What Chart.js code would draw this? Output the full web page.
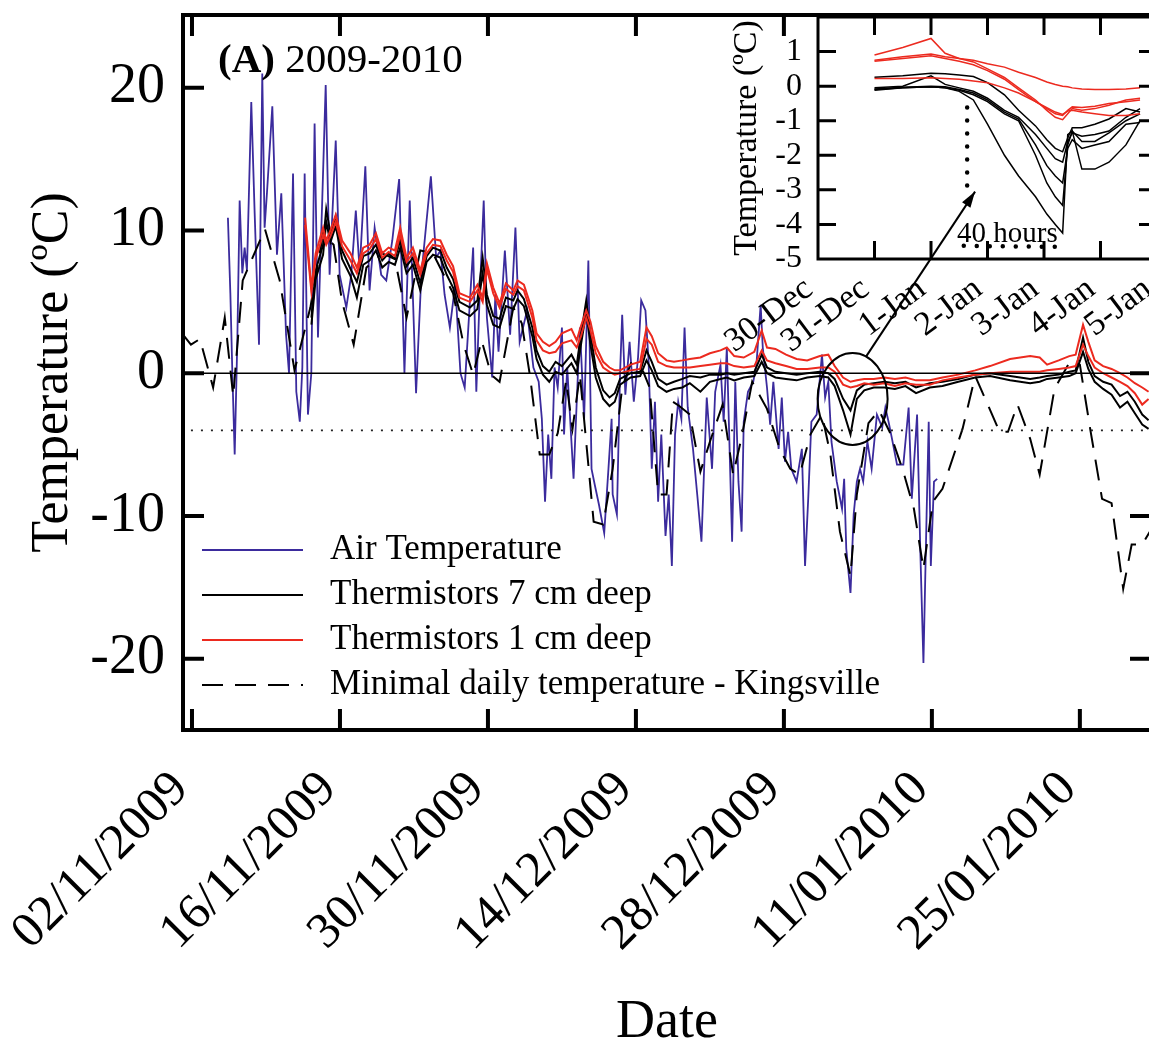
<!DOCTYPE html>
<html>
<head>
<meta charset="utf-8">
<script src="https://cdn.jsdelivr.net/npm/chart.js@4.4.1/dist/chart.umd.min.js"></script>
<style>
  html, body { margin: 0; padding: 0; background: #fff; overflow: hidden; width: 1149px; height: 1043px; }
  #main { position: absolute; left: 0; top: 0; }
  #inset { position: absolute; left: 690px; top: 0; }
</style>
</head>
<body>
<canvas id="main" width="1160" height="1050"></canvas>
<canvas id="inset" width="480" height="360"></canvas>
<script>
// main axis: days since 02/11/2009
const dateTicks = [0, 14, 28, 42, 56, 70, 84];
const dateLabels = ['02/11/2009', '16/11/2009', '30/11/2009', '14/12/2009', '28/12/2009', '11/01/2010', '25/01/2010'];
const tempTicks = [-20, -10, 0, 10, 20];

// air temperature (station)
const airDays = [3.4, 3.63, 3.82, 4.04, 4.29, 4.51, 4.76, 4.98, 5.2, 5.61, 5.93, 6.34, 6.65, 6.87, 7.1, 7.6, 8.04, 8.45, 8.9, 9.18,
  9.56, 9.87, 10.2, 10.44, 10.66, 10.97, 11.29, 11.6, 11.92, 12.33, 12.65, 13.02, 13.6, 13.97, 14.6, 15.07, 15.5, 15.86, 16.4, 16.8,
  17.28, 17.9, 18.38, 18.95, 19.6, 20.1, 20.6, 21.2, 21.7, 22.6, 23.1, 23.5, 23.9, 24.4, 24.9, 25.4, 25.8, 26.3, 26.6, 26.9,
  27.2, 27.6, 27.9, 28.4, 28.7, 29.0, 29.6, 30.1, 30.6, 31.0, 31.7, 32.3, 32.8, 33.1, 33.4, 33.7, 34.0, 34.3, 34.6, 35.0,
  35.2, 35.5, 36.1, 36.4, 36.7, 37.1, 37.5, 37.8, 38.1, 38.5, 39.0, 39.4, 39.7, 39.8, 40.2, 40.5, 40.7, 41.0, 41.4, 41.8,
  42.2, 42.5, 42.9, 43.2, 43.5, 43.8, 44.1, 44.4, 44.8, 45.1, 45.4, 45.7, 46.0, 46.3, 46.6, 46.9, 47.4, 47.8, 48.2, 48.7,
  49.2, 49.5, 50.0, 50.3, 50.6, 51.1, 51.4, 51.7, 52.0, 52.2, 52.6, 53.1, 53.4, 53.8, 54.0, 54.4, 54.7, 55.0, 55.5, 55.8,
  56.1, 56.4, 56.7, 57.2, 57.7, 58.0, 58.3, 58.6, 59.1, 59.6, 59.9, 60.2, 60.5, 61.0, 61.5, 61.7, 61.9, 62.3, 62.6, 62.9,
  63.2, 63.5, 63.9, 64.3, 64.8, 65.3, 65.6, 65.9, 66.2, 66.7, 67.3, 67.8, 68.1, 68.6, 68.9, 69.2, 69.5, 69.7, 69.9, 70.2, 70.5];
const airTemp = [10.9, 5.6, 0.0, -5.7, 2.3, 12.1, 7.0, 8.8, 7.2, 19.0, 11.2, 2.0, 21.0, 10.2, 12.7, 18.7, 8.3, 12.6, 2.7, 0.0,
  14.0, -1.3, -3.4, 0.4, 14.0, -2.9, 0.0, 17.5, 2.5, 12.3, 20.2, 6.9, 16.3, 6.9, 4.6, 6.9, 11.4, 7.2, 14.5, 5.8,
  10.2, 6.9, 6.5, 9.3, 13.6, 0.0, 12.1, -1.4, 6.9, 13.8, 8.1, 8.6, 5.5, 3.2, 6.2, 0.0, -1.0, 5.1, 8.8, -1.3,
  5.1, 12.1, 3.9, -0.3, 5.5, 1.5, 8.6, 2.7, 10.2, 2.2, 4.4, 0.4, -0.6, -3.2, -9.0, -4.3, -7.4, 0.4, -1.0, 3.2,
  -4.3, 0.4, -7.4, -2.0, 3.2, -3.2, 7.9, -6.7, -7.8, -9.2, -11.2, -6.7, -3.2, -8.5, -9.9, 0.0, 4.1, -1.5, 2.2, -2.0,
  1.1, 5.1, 4.4, 0.8, -6.7, -2.0, -9.0, -4.3, -11.4, -8.5, -13.5, -4.3, -2.0, -3.2, 3.2, -2.4, -5.3, -8.5, -11.8, -1.7,
  -6.7, -1.3, 0.6, -3.4, 1.8, -11.8, -0.6, -7.6, -11.1, -3.4, -1.3, -0.6, 0.6, 4.8, 1.8, -1.0, -3.6, -0.6, -5.3, -1.7,
  -6.2, -4.1, -6.7, -7.6, -5.3, -13.5, -8.8, -3.4, -2.9, 1.3, -1.7, -0.6, -4.8, -7.6, -9.5, -7.4, -12.3, -15.4, -9.9, -7.6,
  -6.7, -7.6, -4.8, -6.7, -2.9, -3.8, -2.4, -3.4, -4.5, -6.4, -6.4, -2.4, -8.8, -2.9, -12.3, -20.3, -9.9, -3.4, -13.5, -7.6, -7.4];

// soil thermistors (shared time base)
const soilDays = [10.7, 11.3, 11.7, 12.4, 12.7, 13.1, 13.6, 14.2, 15.0, 15.6, 16.2, 16.8, 17.4, 18.0, 18.6, 19.2, 19.7, 20.3, 20.9, 21.6,
  22.2, 22.8, 23.5, 24.1, 24.7, 25.3, 26.3, 27.0, 27.5, 27.9, 28.5, 29.1, 29.7, 30.4, 30.8, 31.4, 32.2, 32.6, 33.2, 33.8,
  34.4, 35.0, 35.9, 36.4, 36.8, 37.3, 37.7, 38.2, 38.9, 39.5, 40.0, 40.5, 41.5, 42.4, 43.0, 43.5, 44.1, 44.9, 45.6, 46.4,
  47.1, 48.1, 49.0, 50.0, 50.6, 51.3, 52.2, 53.2, 53.9, 54.4, 55.2, 56.2, 57.2, 58.2, 59.4, 60.2, 60.8, 61.6, 62.3, 62.9,
  63.6, 64.5, 65.5, 66.5, 67.5, 68.5, 69.8, 71.0, 72.5, 74.1, 75.5, 77.4, 79.3, 80.2, 80.9, 82.0, 83.0, 83.6, 84.3, 84.8,
  85.4, 86.2, 87.0, 87.8, 88.5, 89.2, 89.9, 90.5];
const black7a = [null, 3.9, 7.2, 9.0, 11.5, 9.8, 11.0, 8.6, 7.3, 6.4, 8.2, 8.4, 9.0, 7.9, 8.4, 8.0, 9.3, 7.5, 8.1, 6.3,
  8.2, 8.8, 8.6, 7.4, 6.6, 5.0, 4.6, 5.1, 8.1, 5.5, 4.0, 3.8, 5.3, 5.1, 5.8, 5.2, 3.2, 1.6, 0.5, 0.1,
  0.8, 0.5, 1.3, 0.6, 2.7, 5.1, 2.7, 0.4, -1.2, -1.7, -1.4, -0.4, 0.0, 0.1, 1.6, 0.8, -0.4, -0.8, -0.6, -0.4,
  -0.2, -0.3, -0.1, -0.1, 0.0, -0.1, 0.0, 0.1, 1.3, 0.4, 0.1, 0.0, -0.1, 0.0, 0.1, 0.0, -0.4, -1.8, -2.6, -1.2,
  -0.8, -0.7, -0.6, -0.7, -0.6, -1.0, -0.7, -0.6, -0.4, -0.1, 0.0, -0.2, -0.4, -0.3, -0.2, -0.1, 0.1, 0.2, 2.5, 0.8,
  -0.2, -0.6, -0.8, -1.6, -1.3, -2.0, -2.9, -3.3];
const black7b = [null, 3.4, 6.6, 8.3, 10.6, 9.2, 10.3, 8.0, 6.8, 5.3, 7.6, 7.9, 8.6, 7.4, 7.8, 7.6, 8.8, 7.0, 7.6, 5.8,
  7.8, 8.3, 8.1, 6.9, 6.0, 4.4, 4.0, 4.5, 7.0, 4.8, 3.4, 3.2, 4.7, 4.5, 5.2, 4.7, 2.6, 1.0, -0.1, -0.6,
  0.1, -0.1, 0.7, 0.0, 2.0, 4.3, 2.0, -0.3, -1.8, -2.3, -2.0, -0.8, -0.3, -0.2, 0.9, 0.2, -0.9, -1.3, -1.1, -1.0,
  -0.7, -1.3, -0.6, -0.4, -0.3, -0.5, -0.3, -0.2, 0.8, 0.0, -0.3, -0.4, -0.5, -0.3, -0.2, -0.3, -0.9, -2.6, -4.3, -1.8,
  -1.2, -1.0, -1.0, -1.1, -0.9, -1.4, -1.0, -0.9, -0.6, -0.3, -0.2, -0.5, -0.7, -0.6, -0.4, -0.3, -0.2, 0.0, 1.5, 0.3,
  -0.6, -1.1, -1.5, -2.4, -2.0, -2.8, -3.6, -3.9];
const red1a = [10.9, 6.0, 8.4, 10.2, 9.3, 10.0, 11.1, 9.3, 8.4, 7.4, 8.8, 9.0, 9.8, 8.4, 8.8, 8.6, 10.2, 8.1, 8.8, 7.2,
  8.8, 9.4, 9.3, 8.3, 7.5, 5.6, 5.3, 6.2, 5.3, 7.7, 6.0, 4.9, 6.3, 5.8, 6.5, 6.2, 4.4, 2.8, 2.2, 1.9,
  2.2, 2.8, 3.1, 2.3, 3.3, 4.4, 3.6, 1.9, 0.8, 0.4, 0.2, 0.2, 0.6, 0.8, 3.2, 2.6, 1.4, 0.9, 0.8, 0.9,
  1.0, 1.1, 1.4, 1.6, 1.8, 1.2, 1.1, 1.5, 3.0, 1.8, 1.7, 1.3, 1.0, 0.9, 1.2, 1.3, 0.5, -0.3, -0.6, -0.5,
  -0.4, -0.4, -0.3, -0.4, -0.3, -0.5, -0.5, -0.3, -0.1, 0.2, 0.5, 1.0, 1.2, 1.1, 0.6, 0.9, 1.2, 1.3, 3.4, 2.2,
  0.9, 0.5, 0.3, 0.0, -0.3, -0.7, -1.0, -1.3];
const red1b = [10.4, 5.7, 8.0, 9.7, 9.0, 9.6, 10.6, 8.9, 7.9, 7.0, 8.4, 8.7, 9.4, 8.1, 8.5, 8.2, 9.7, 7.8, 8.4, 6.9,
  8.4, 9.0, 8.9, 7.9, 7.1, 5.3, 5.0, 5.8, 5.0, 7.3, 5.6, 4.6, 5.9, 5.5, 6.1, 5.8, 3.9, 2.3, 1.6, 1.4,
  1.5, 2.1, 2.3, 1.8, 2.6, 3.9, 3.0, 1.4, 0.4, 0.1, -0.1, 0.0, 0.2, 0.3, 2.4, 2.0, 0.8, 0.5, 0.4, 0.4,
  0.4, 0.5, 0.6, 0.7, 0.7, 0.5, 0.4, 0.5, 1.6, 0.9, 0.7, 0.5, 0.3, 0.3, 0.4, 0.4, 0.1, -0.8, -1.0, -0.9,
  -0.7, -0.8, -0.7, -0.9, -0.7, -0.8, -0.8, -0.5, -0.3, -0.1, 0.0, 0.1, 0.1, 0.1, 0.2, 0.3, 0.4, 0.5, 2.0, 1.2,
  0.4, 0.0, -0.3, -0.6, -0.9, -1.4, -2.2, -1.8];

// minimal daily temperature, Kingsville
const kingDays = [-0.85, -0.1, 0.75, 2.0, 3.1, 3.9, 4.8, 6.9, 8.3, 9.7, 11.2, 12.4, 13.4, 14.2, 15.3, 16.5, 18.0, 19.2, 20.3, 21.6,
  22.8, 24.7, 25.7, 26.6, 27.4, 28.3, 29.1, 30.4, 31.2, 32.0, 32.9, 33.8, 34.6, 35.4, 36.0, 36.7, 38.0, 38.9, 39.8, 40.7,
  41.6, 42.7, 43.3, 44.1, 44.9, 45.5, 46.1, 47.1, 48.1, 49.0, 50.2, 51.2, 52.0, 53.0, 54.4, 55.6, 56.6, 57.5, 58.5, 59.6,
  60.4, 61.3, 62.3, 62.9, 64.0, 65.0, 66.0, 67.3, 68.3, 69.2, 70.1, 71.0, 72.9, 74.1, 75.4, 76.4, 77.2, 78.1, 79.3, 80.2,
  81.6, 83.1, 84.0, 85.0, 86.1, 87.0, 88.1, 88.9, 89.9, 90.7];
const kingTemp = [2.7, 2.0, 2.4, -1.0, 3.9, -1.6, 6.5, 10.1, 6.5, 0.2, 4.6, 9.8, 9.0, 5.0, 2.0, 7.4, 8.4, 8.0, 3.9, 8.6,
  8.4, 5.6, 2.0, -0.1, 2.3, -0.1, -0.6, 4.6, 3.5, -0.3, -5.7, -5.7, -4.2, -0.5, -3.9, -0.1, -10.4, -10.6, -6.7, -1.0,
  0.85, 0.1, -1.0, -8.5, -8.5, -2.0, -2.3, -2.9, -6.9, -4.8, -2.2, -7.1, -4.5, -0.6, -2.5, -5.3, -6.7, -7.1, -4.3, -2.9,
  -5.7, -11.1, -14.2, -8.5, -3.5, -2.6, -4.1, -6.9, -9.5, -13.7, -9.0, -8.1, -3.9, -0.2, -2.4, -4.1, -4.1, -2.2, -4.6, -7.1,
  -1.1, 0.85, 0.6, -4.0, -8.8, -9.1, -15.1, -12.0, -12.0, -11.0];

// reference lines
const refDays = [-0.85, 90.73];
const zeroLine = [0, 0];
const frostDays = [-0.1, 90.73];
const frostLine = [-4, -4];

// inset: days since 30-Dec 00:00
const insetTicks = [0, 1, 2, 3, 4, 5, 6];
const insetLabels = ['30-Dec', '31-Dec', '1-Jan', '2-Jan', '3-Jan', '4-Jan', '5-Jan'];
const insetTempTicks = [-5, -4, -3, -2, -1, 0, 1];
const insetDays = [1.0, 1.5, 2.0, 2.25, 2.5, 2.75, 3.0, 3.3, 3.55, 3.85, 4.05, 4.2, 4.33, 4.42, 4.5, 4.67, 4.9, 5.15, 5.45, 5.7];
const insetK1 = [0.26, 0.3, 0.37, 0.36, 0.32, 0.28, 0.1, -0.25, -0.7, -1.15, -1.55, -1.8, -1.9, -1.5, -1.2, -1.2, -1.1, -0.95, -0.65, -0.75];
const insetK2 = [-0.05, 0.0, 0.3, 0.05, -0.05, -0.15, -0.35, -0.7, -0.9, -1.4, -1.8, -2.1, -2.2, -1.6, -1.35, -1.45, -1.4, -1.3, -0.9, -0.65];
const insetK3 = [-0.08, -0.03, 0.0, -0.02, -0.1, -0.2, -0.4, -0.75, -0.95, -1.7, -2.3, -2.6, -2.8, -1.8, -1.55, -1.8, -1.7, -1.6, -1.1, -1.05];
const insetK4 = [-0.1, -0.05, -0.02, -0.05, -0.12, -0.25, -0.45, -0.8, -1.0, -2.0, -2.8, -3.2, -3.45, -1.7, -1.3, -2.4, -2.4, -2.2, -1.7, -1.0];
const insetK5 = [-0.12, -0.05, -0.02, -0.05, -0.15, -0.4, -1.1, -2.0, -2.6, -3.2, -3.7, -4.0, -4.25, -1.4, -1.3, -1.6, -1.6, -1.35, -1.0, -0.8];
const insetR1 = [0.9, 1.12, 1.38, 0.95, 0.8, 0.7, 0.5, 0.25, -0.05, -0.4, -0.7, -0.9, -0.97, -0.8, -0.65, -0.7, -0.65, -0.55, -0.4, -0.35];
const insetR2 = [0.75, 0.85, 0.93, 0.85, 0.8, 0.75, 0.65, 0.55, 0.4, 0.25, 0.12, 0.05, 0.0, -0.02, -0.05, -0.08, -0.1, -0.1, -0.08, -0.05];
const insetR3 = [0.72, 0.8, 0.88, 0.8, 0.72, 0.62, 0.45, 0.2, -0.1, -0.45, -0.65, -0.8, -0.85, -0.7, -0.6, -0.62, -0.58, -0.5, -0.45, -0.4];
const insetR4 = [0.22, 0.22, 0.24, 0.22, 0.2, 0.15, 0.1, -0.05, -0.2, -0.45, -0.62, -0.75, -0.82, -0.72, -0.7, -0.75, -0.8, -0.85, -0.85, -0.8];
// 40 hours marker
const dropDays = [2.64, 2.64];
const dropTemp = [-0.62, -3.0];
const spanDays = [2.58, 4.28];
const spanTemp = [-4.62, -4.65];

const SERIF = "'Liberation Serif', 'Times New Roman', serif";
const AIR = '#3b2b9d';
const RED = '#ec2a1f';
Chart.defaults.font.family = SERIF;
Chart.defaults.color = '#000';

function pts(xs, ys) {
  return xs.map((x, i) => ({ x: x, y: ys[i] }));
}

function line(label, xs, ys, color, width, extra) {
  return Object.assign({
    label: label, data: pts(xs, ys), borderColor: color, borderWidth: width,
    pointRadius: 0, fill: false, tension: 0, spanGaps: false
  }, extra || {});
}

// box frame with inward ticks on all four sides
const framePlugin = {
  id: 'frame',
  beforeDraw(chart, args, opts) {
    if (!opts.fill) return;
    const { ctx, chartArea: a } = chart;
    ctx.save();
    ctx.fillStyle = opts.fill;
    ctx.fillRect(a.left, a.top, a.right - a.left, a.bottom - a.top);
    ctx.restore();
  },
  afterDraw(chart, args, opts) {
    const { ctx, chartArea: a, scales } = chart;
    ctx.save();
    ctx.strokeStyle = '#000';
    ctx.lineWidth = opts.tickWidth;
    ctx.beginPath();
    scales.x.ticks.forEach(t => {
      const px = scales.x.getPixelForValue(t.value);
      if (px < a.left + 3 || px > a.right - 3) return;
      ctx.moveTo(px, a.bottom); ctx.lineTo(px, a.bottom - opts.tickLen);
      ctx.moveTo(px, a.top); ctx.lineTo(px, a.top + opts.tickLen);
    });
    scales.y.ticks.forEach(t => {
      const py = scales.y.getPixelForValue(t.value);
      if (py < a.top + 3 || py > a.bottom - 3) return;
      ctx.moveTo(a.left, py); ctx.lineTo(a.left + opts.tickLen, py);
      ctx.moveTo(a.right, py); ctx.lineTo(a.right - opts.tickLen, py);
    });
    ctx.stroke();
    ctx.lineWidth = opts.width;
    ctx.strokeRect(a.left, a.top, a.right - a.left, a.bottom - a.top);
    ctx.restore();
  }
};

// legend inside the plot, plus panel label and circle
const mainNotes = {
  id: 'mainNotes',
  afterDraw(chart, args, opts) {
    const { ctx, chartArea: a, scales: { x, y } } = chart;
    ctx.save();
    ctx.fillStyle = '#000';
    ctx.textBaseline = 'alphabetic';
    ctx.font = 'bold 41px ' + SERIF;
    ctx.fillText('(A)', a.left + 35, a.top + 57);
    const w = ctx.measureText('(A)').width;
    ctx.font = '41px ' + SERIF;
    ctx.fillText(' 2009-2010', a.left + 35 + w, a.top + 57);

    ctx.font = '35px ' + SERIF;
    ctx.textBaseline = 'middle';
    opts.items.forEach((idx, i) => {
      const ds = chart.data.datasets[idx];
      const yy = a.top + 535 + i * 45;
      ctx.save();
      ctx.strokeStyle = ds.borderColor;
      ctx.lineWidth = 2;
      ctx.setLineDash(ds.borderDash || []);
      ctx.beginPath();
      ctx.moveTo(a.left + 19, yy);
      ctx.lineTo(a.left + 120, yy);
      ctx.stroke();
      ctx.restore();
      ctx.fillText(ds.label, a.left + 147, yy);
    });

    ctx.strokeStyle = '#000';
    ctx.lineWidth = 2;
    ctx.beginPath();
    ctx.ellipse(x.getPixelForValue(62.5), y.getPixelForValue(-1.8), 35, 46, 0, 0, Math.PI * 2);
    ctx.stroke();
    ctx.restore();
  }
};

const mainChart = new Chart(document.getElementById('main'), {
  type: 'line',
  data: {
    datasets: [
      line('Air Temperature', airDays, airTemp, AIR, 1.8, { order: 6 }),
      line('Thermistors 7 cm deep', soilDays, black7a, '#000', 2, { order: 3 }),
      line('', soilDays, black7b, '#000', 2, { order: 3 }),
      line('Thermistors 1 cm deep', soilDays, red1a, RED, 2, { order: 2 }),
      line('', soilDays, red1b, RED, 2, { order: 2 }),
      line('Minimal daily temperature - Kingsville', kingDays, kingTemp, '#000', 2, { order: 4, borderDash: [21, 12] }),
      line('', refDays, zeroLine, '#000', 1.6, { order: 1 }),
      line('', frostDays, frostLine, '#222', 1.8, { order: 1, borderDash: [2, 8] })
    ]
  },
  options: {
    responsive: false,
    animation: false,
    events: [],
    layout: { padding: { top: 15, right: 9, left: 0, bottom: 0 } },
    plugins: {
      legend: { display: false },
      tooltip: { enabled: false },
      frame: { width: 4, tickLen: 21, tickWidth: 4 },
      mainNotes: { items: [0, 1, 3, 5] }
    },
    scales: {
      x: {
        type: 'linear', min: -0.85, max: 90.73,
        afterBuildTicks: s => { s.ticks = dateTicks.map(v => ({ value: v })); },
        afterFit: s => { s.height = 320; s.paddingLeft = 0; s.paddingRight = 0; },
        grid: { display: false, drawTicks: false },
        border: { display: false },
        ticks: {
          autoSkip: false, minRotation: 45, maxRotation: 45, padding: 30, labelOffset: -11,
          font: { size: 50 }, color: '#000',
          callback: (v, i) => dateLabels[i]
        },
        title: { display: true, text: 'Date', font: { size: 54, lineHeight: 1.0 }, color: '#000', padding: { top: 0, bottom: 0 } }
      },
      y: {
        type: 'linear', min: -25, max: 25.1,
        afterBuildTicks: s => { s.ticks = tempTicks.map(v => ({ value: v })); },
        afterFit: s => { s.width = 183; s.paddingTop = 0; s.paddingBottom = 0; },
        grid: { display: false, drawTicks: false },
        border: { display: false },
        ticks: { autoSkip: false, padding: 18, font: { size: 56 }, color: '#000', callback: v => String(v) },
        title: { display: true, text: 'Temperature (ºC)', font: { size: 52 }, color: '#000', padding: { top: 22 } }
      }
    }
  },
  plugins: [framePlugin, mainNotes]
});

// arrow from the circle into the inset, and the "40 hours" note
const insetNotes = {
  id: 'insetNotes',
  afterDraw(chart, args, opts) {
    const { ctx, scales: { x, y } } = chart;
    const mainBox = mainChart.canvas.getBoundingClientRect();
    const box = chart.canvas.getBoundingClientRect();
    const tx = mainChart.scales.x.getPixelForValue(63.8) + mainBox.left - box.left;
    const ty = mainChart.scales.y.getPixelForValue(1.2) + mainBox.top - box.top;
    const hx = x.getPixelForValue(2.78);
    const hy = y.getPixelForValue(-3.05);
    ctx.save();
    ctx.strokeStyle = '#000';
    ctx.fillStyle = '#000';
    ctx.lineWidth = 2;
    ctx.beginPath();
    ctx.moveTo(tx, ty);
    ctx.lineTo(hx, hy);
    ctx.stroke();
    const ang = Math.atan2(hy - ty, hx - tx);
    ctx.beginPath();
    ctx.moveTo(hx, hy);
    ctx.lineTo(hx - 16 * Math.cos(ang) + 5 * Math.sin(ang), hy - 16 * Math.sin(ang) - 5 * Math.cos(ang));
    ctx.lineTo(hx - 16 * Math.cos(ang) - 5 * Math.sin(ang), hy - 16 * Math.sin(ang) + 5 * Math.cos(ang));
    ctx.closePath();
    ctx.fill();
    ctx.font = '29px ' + SERIF;
    ctx.textBaseline = 'alphabetic';
    ctx.fillText('40 hours', x.getPixelForValue(2.46), y.getPixelForValue(-4.52));
    ctx.restore();
  }
};

const dots = { borderDash: [0, 13], borderCapStyle: 'round', order: 0 };

new Chart(document.getElementById('inset'), {
  type: 'line',
  data: {
    datasets: [
      line('', insetDays, insetR1, RED, 1.5),
      line('', insetDays, insetR2, RED, 1.5),
      line('', insetDays, insetR3, RED, 1.5),
      line('', insetDays, insetR4, RED, 1.5),
      line('', insetDays, insetK1, '#000', 1.5),
      line('', insetDays, insetK2, '#000', 1.5),
      line('', insetDays, insetK3, '#000', 1.5),
      line('', insetDays, insetK4, '#000', 1.5),
      line('', insetDays, insetK5, '#000', 1.5),
      line('', dropDays, dropTemp, '#000', 4.5, dots),
      line('', spanDays, spanTemp, '#000', 4.5, dots)
    ]
  },
  options: {
    responsive: false,
    animation: false,
    events: [],
    layout: { padding: { top: 17, right: 13, left: 0, bottom: 0 } },
    plugins: {
      legend: { display: false },
      tooltip: { enabled: false },
      frame: { width: 3, tickLen: 18, tickWidth: 3, fill: '#fff' }
    },
    scales: {
      x: {
        type: 'linear', min: 0, max: 6,
        afterBuildTicks: s => { s.ticks = insetTicks.map(v => ({ value: v })); },
        afterFit: s => { s.height = 101; s.paddingLeft = 0; s.paddingRight = 0; },
        grid: { display: false, drawTicks: false },
        border: { display: false },
        ticks: {
          autoSkip: false, minRotation: 37, maxRotation: 37, padding: 10, labelOffset: -9,
          font: { size: 34 }, color: '#000',
          callback: (v, i) => insetLabels[i]
        }
      },
      y: {
        type: 'linear', min: -5, max: 2,
        afterBuildTicks: s => { s.ticks = insetTempTicks.map(v => ({ value: v })); },
        afterFit: s => { s.width = 128; s.paddingTop = 0; s.paddingBottom = 0; },
        grid: { display: false, drawTicks: false },
        border: { display: false },
        ticks: { autoSkip: false, padding: 16, font: { size: 32 }, color: '#000', callback: v => String(v) },
        title: { display: true, text: 'Temperature (ºC)', font: { size: 34 }, color: '#000', padding: { top: 37 } }
      }
    }
  },
  plugins: [framePlugin, insetNotes]
});
</script>
</body>
</html>
